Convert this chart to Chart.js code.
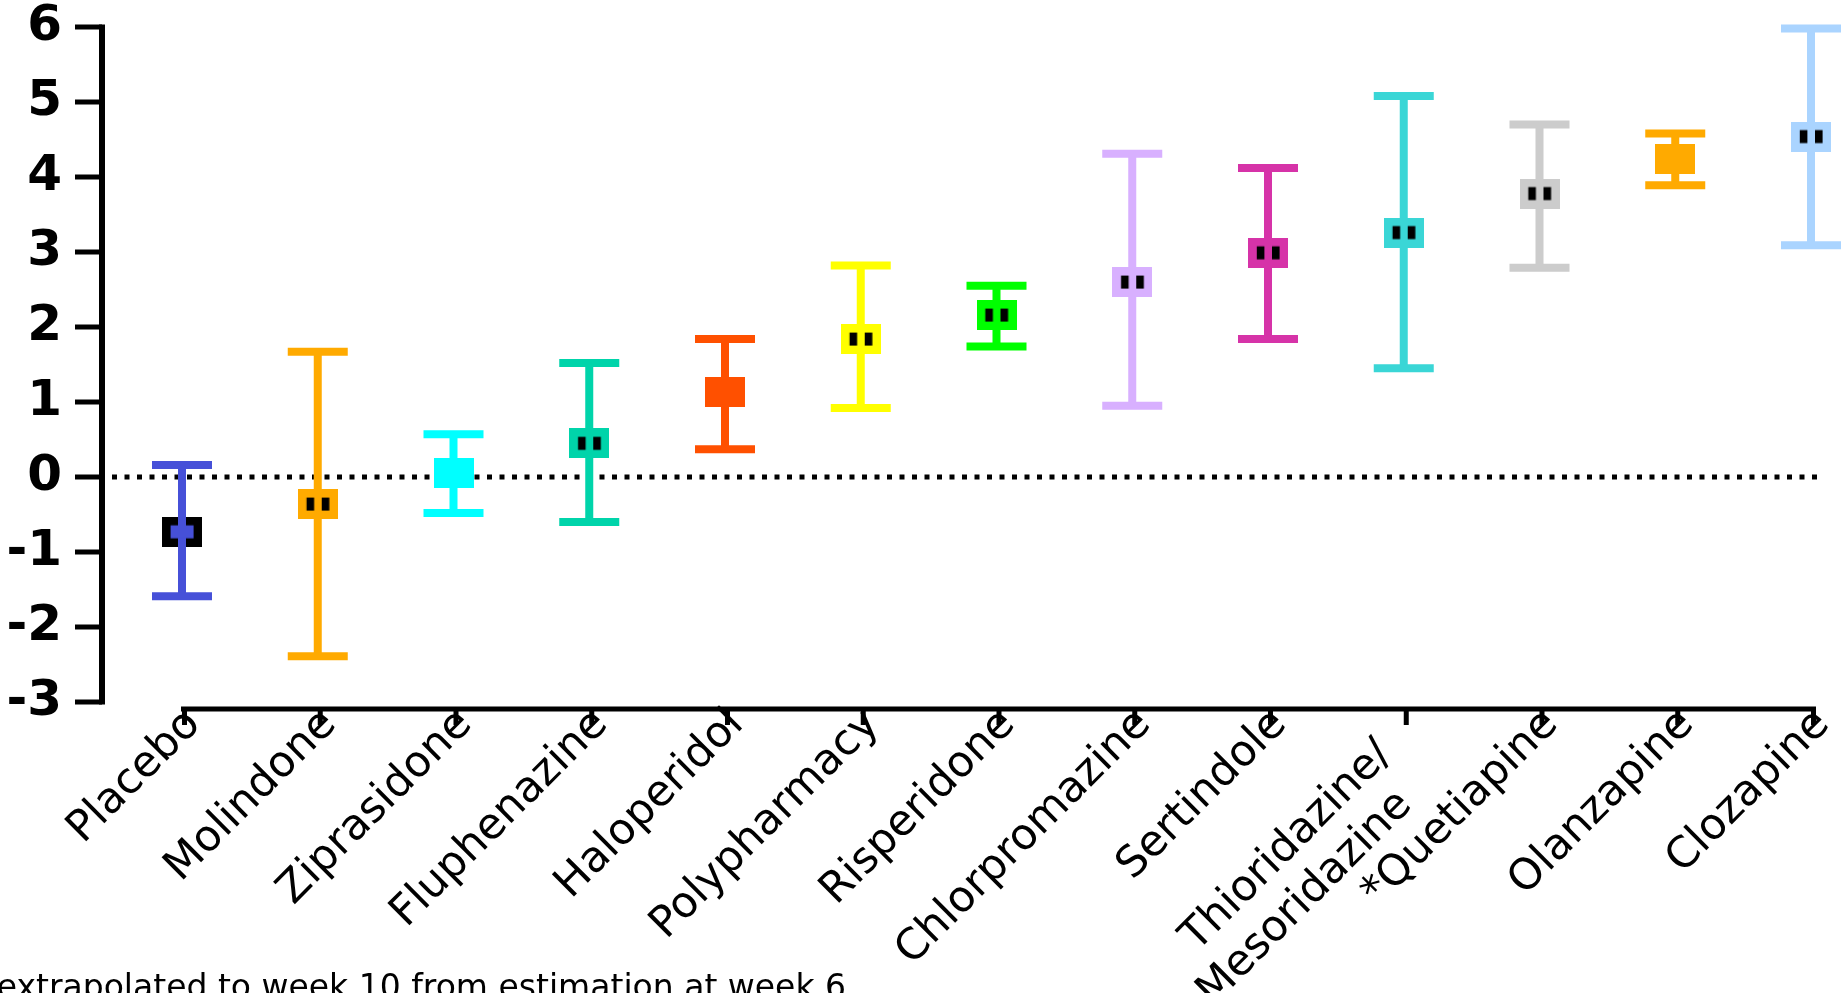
<!DOCTYPE html>
<html>
<head>
<meta charset="utf-8">
<style>
  html, body { margin: 0; padding: 0; background: #fff; }
  #wrap { width: 1843px; height: 993px; position: relative; }
</style>
<script src="https://cdn.jsdelivr.net/npm/chart.js@4.4.1/dist/chart.umd.min.js"></script>
</head>
<body>
<div id="wrap"><canvas id="weight"></canvas></div>
<script>
// mean weight change (kg) with 95% CI
var drugs = ["Placebo", "Molindone", "Ziprasidone", "Fluphenazine", "Haloperidol",
  "Polypharmacy", "Risperidone", "Chlorpromazine", "Sertindole",
  ["Thioridazine/\u2002\u2002", "Mesoridazine\u2002\u2002\u2002"], "*Quetiapine", "Olanzapine", "Clozapine"];
var means = [-0.73, -0.36, 0.06, 0.45, 1.13, 1.84, 2.16, 2.60, 2.99, 3.26, 3.78, 4.24, 4.54];
var upper = [0.16, 1.67, 0.57, 1.52, 1.84, 2.82, 2.55, 4.31, 4.12, 5.08, 4.70, 4.58, 5.98];
var lower = [-1.59, -2.39, -0.48, -0.60, 0.37, 0.92, 1.74, 0.95, 1.84, 1.45, 2.79, 3.89, 3.09];
var yMin = -3, yMax = 6;
var footnote = "*extrapolated to week 10 from estimation at week 6";

var colors = ["#4650d8", "#ffaa00", "#00ffff", "#00d4aa", "#ff5000", "#ffff00", "#00ff00",
  "#d8b0ff", "#d633a8", "#3ad6d6", "#cccccc", "#ffaa00", "#aad4ff"];
var kinds = ["hollow", "dots", "solid", "dots", "solid", "dots", "dots",
  "dots", "dots", "dots", "dots", "solid", "dots"];

function makeMarker(color, kind) {
  var c = document.createElement('canvas');
  c.width = 40; c.height = 30;
  var g = c.getContext('2d');
  if (kind === 'hollow') {
    g.fillStyle = '#000'; g.fillRect(0, 0, 40, 30);
    g.fillStyle = color;
    g.fillRect(16, 0, 8, 30);
    g.fillRect(8.6, 8.6, 23, 13);
  } else {
    g.fillStyle = color; g.fillRect(0, 0, 40, 30);
    if (kind === 'dots') {
      g.fillStyle = '#000';
      g.fillRect(8.8, 8.6, 7.6, 13);
      g.fillRect(24, 8.6, 7.6, 13);
    }
  }
  return c;
}
var markers = colors.map(function (c, i) { return makeMarker(c, kinds[i]); });

var decor = {
  id: 'decor',
  beforeDatasetsDraw: function (chart) {
    var ctx = chart.ctx, x = chart.scales.x, y = chart.scales.y, area = chart.chartArea;
    ctx.save();
    // dotted zero line
    var y0 = y.getPixelForValue(0);
    ctx.strokeStyle = '#000';
    ctx.lineWidth = 5;
    ctx.setLineDash([5, 7.5]);
    ctx.beginPath();
    ctx.moveTo(area.left - 70, y0);
    ctx.lineTo(area.right + 10, y0);
    ctx.stroke();
    ctx.setLineDash([]);
    // error bars
    for (var i = 0; i < means.length; i++) {
      var px = x.getPixelForValue(i);
      var pu = y.getPixelForValue(upper[i]);
      var pl = y.getPixelForValue(lower[i]);
      ctx.fillStyle = colors[i];
      ctx.fillRect(px - 4, pu, 8, pl - pu);
      ctx.fillRect(px - 30, pu - 4, 60, 8);
      ctx.fillRect(px - 30, pl - 4, 60, 8);
    }
    ctx.restore();
  },
  afterDraw: function (chart) {
    var ctx = chart.ctx, x = chart.scales.x, y = chart.scales.y, area = chart.chartArea;
    ctx.save();
    ctx.fillStyle = '#000';
    // y axis, offset to the left
    var ax = area.left - 80;
    var top = y.getPixelForValue(yMax), bot = y.getPixelForValue(yMin);
    ctx.fillRect(ax - 3, top - 2.5, 6, bot - top + 5);
    y.ticks.forEach(function (t) {
      var py = y.getPixelForValue(t.value);
      ctx.fillRect(ax - 27, py - 2.5, 27, 5);
    });
    // x axis, just under the plot
    var ay = area.bottom + 7;
    var x0 = x.getPixelForValue(0), x1 = x.getPixelForValue(drugs.length - 1);
    ctx.fillRect(x0 - 1, ay - 2.5, x1 - x0 + 6, 5);
    for (var i = 0; i < drugs.length; i++) {
      ctx.fillRect(x.getPixelForValue(i), ay, 5, 16);
    }
    // footnote
    ctx.font = '33px "DejaVu Sans"';
    ctx.textAlign = 'right';
    ctx.fillText(footnote, 846, 998);
    ctx.restore();
  }
};

new Chart('weight', {
  type: 'line',
  data: {
    labels: drugs,
    datasets: [{
      data: means,
      showLine: false,
      pointStyle: markers,
      pointRadius: 1,
      borderWidth: 0,
      clip: false
    }]
  },
  options: {
    responsive: true,
    maintainAspectRatio: false,
    animation: false,
    devicePixelRatio: 1,
    events: [],
    layout: { padding: { top: 27, right: 32, left: 0, bottom: 0 } },
    plugins: { legend: { display: false }, tooltip: { enabled: false } },
    scales: {
      x: {
        type: 'category',
        offset: false,
        grid: { display: false, drawTicks: false },
        border: { display: false },
        ticks: {
          autoSkip: false,
          minRotation: 45,
          maxRotation: 45,
          padding: -2,
          labelOffset: 12,
          color: '#000',
          font: { family: 'DejaVu Sans', size: 43, lineHeight: 1.16 }
        },
        afterFit: function (s) { s.height = 291; s.paddingLeft = 0; s.paddingRight = 0; }
      },
      y: {
        min: yMin,
        max: yMax,
        grid: { display: false, drawTicks: false },
        border: { display: false },
        ticks: {
          stepSize: 1,
          padding: 120,
          color: '#000',
          font: { family: 'DejaVu Sans', size: 50, weight: 'bold' }
        },
        afterFit: function (s) { s.width = 182; s.paddingTop = 0; s.paddingBottom = 0; }
      }
    }
  },
  plugins: [decor]
});
</script>
</body>
</html>
